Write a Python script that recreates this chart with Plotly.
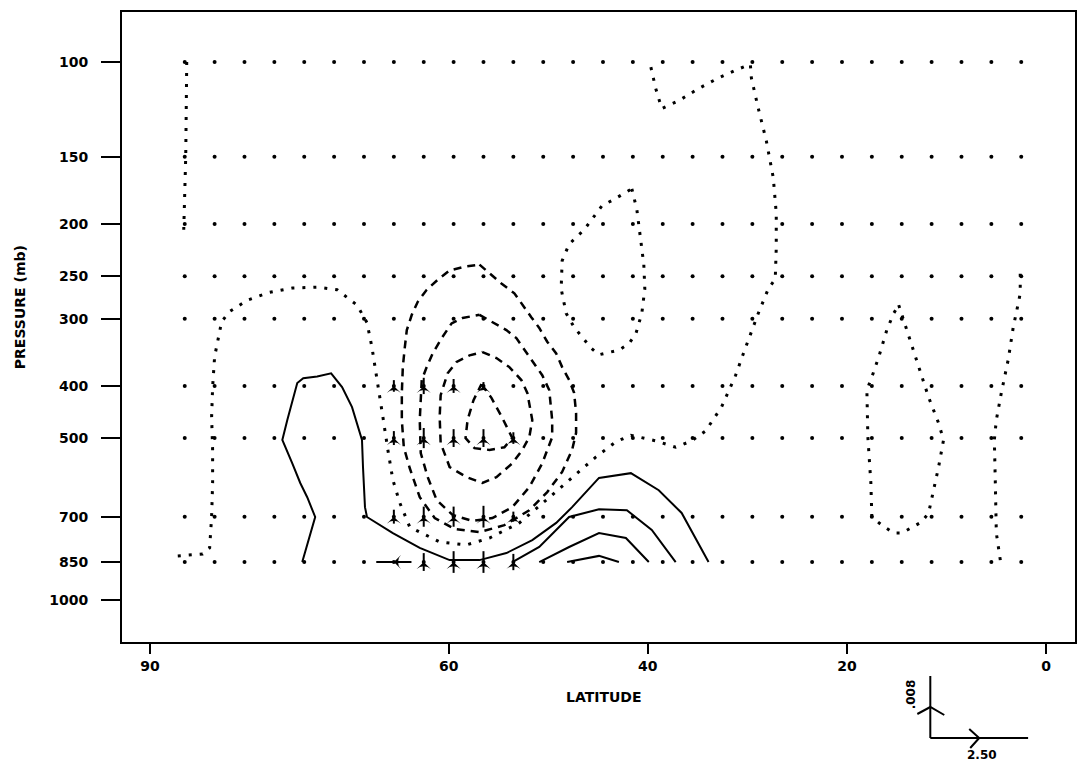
import math
import plotly.graph_objects as go

# ---------------- data ----------------
levels = [100, 150, 200, 250, 300, 400, 500, 700, 850]
grid_lats = [86.5, 83.5, 80.5, 77.5, 74.5, 71.5, 68.5, 65.5, 62.5, 59.5, 56.5, 53.5,
             50.5, 47.5, 44.5, 41.5, 38.5, 35.5, 32.5, 29.5, 26.5, 23.5, 20.5, 17.5,
             14.5, 11.5, 8.5, 5.5, 2.5]

ytick_vals = [100, 150, 200, 250, 300, 400, 500, 700, 850, 1000]
ytick_text = ["100", "150", "200", "250", "300", "400", "500", "700", "850", "1000"]
xtick_vals = [90, 60, 40, 20, 0]
xtick_text = ["90", "60", "40", "20", "0"]

# zero contours (dotted)
z1_lat = [86.3, 86.4, 86.6]
z1_p = [100, 150, 205]

z2_lat = [87.2, 85.8, 84.7, 84.0, 83.8, 83.7, 83.7, 83.8, 83.7, 83.5, 83.2, 82.8, 82.0, 80.2,
          78.0, 75.7, 73.2, 71.2, 69.2, 68.2, 67.7, 67.1, 66.6, 66.1, 65.6, 64.9, 63.9, 60.9,
          58.2, 55.9, 52.9, 50.2, 47.6, 45.2, 43.2, 41.7, 39.2, 37.2, 35.6, 34.2, 32.6, 31.2,
          30.2, 28.9, 27.9, 27.2, 27.1, 27.1, 27.4, 28.1, 28.9, 29.6, 29.7, 30.9, 32.9, 34.9,
          36.9, 38.6, 39.2, 39.7]
z2_p = [828, 825, 821, 800, 701, 606, 526, 457, 402, 353, 333, 304, 291, 277,
        268, 263, 262, 265, 283, 305, 339, 395, 457, 526, 598, 660, 732, 780,
        790, 767, 719, 652, 591, 542, 508, 494, 506, 520, 506, 485, 438, 383,
        340, 293, 264, 253, 222, 191, 164, 140, 122, 107, 101, 103, 107, 112,
        118, 122, 112, 102]

u_lat = [41.6, 41.1, 40.7, 40.4, 40.3, 40.6, 41.2, 41.9, 42.9, 44.9, 45.7, 47.4, 48.2, 48.7,
         48.6, 47.9, 46.4, 44.6, 43.4, 41.6]
u_p = [172, 188, 215, 238, 264, 293, 320, 334, 343, 350, 340, 311, 293, 264,
       234, 218, 205, 185, 180, 172]

r_lat = [14.8, 14.1, 13.0, 11.8, 10.8, 10.3, 10.8, 11.3, 11.8, 12.5, 14.5, 15.3, 16.5, 17.5,
         17.6, 17.9, 18.0, 17.5, 16.8, 16.0, 15.3, 14.8]
r_p = [283, 311, 357, 420, 469, 504, 566, 625, 689, 716, 751, 751, 726, 701,
       606, 498, 407, 385, 353, 315, 293, 283]

e_lat = [4.6, 5.0, 5.1, 5.2, 5.0, 4.5, 3.8, 3.3, 2.8, 2.6, 2.6]
e_p = [843, 751, 606, 504, 463, 412, 357, 311, 281, 269, 245]

# positive contours (solid)
s1_lat = [74.7, 74.1, 73.4, 74.2, 74.9, 75.7, 76.7, 76.2, 75.7, 75.2, 74.6, 73.2, 71.8, 70.7,
          69.7, 68.7, 68.6, 68.4, 68.2, 65.6, 62.9, 59.9, 56.9, 54.2, 51.6, 49.2, 47.6, 44.9,
          41.7, 38.9, 36.6, 33.9]
s1_p = [850, 774, 701, 644, 606, 557, 504, 463, 425, 395, 387, 384, 379, 402,
        438, 504, 566, 672, 701, 751, 800, 843, 843, 818, 774, 719, 672, 593,
        581, 625, 689, 850]
s2_lat = [53.6, 50.9, 47.9, 44.9, 42.1, 39.6, 37.2]
s2_p = [850, 797, 701, 678, 681, 741, 850]
s3_lat = [50.9, 47.9, 44.9, 42.2, 39.9]
s3_p = [850, 797, 751, 767, 850]
s4_lat = [48.1, 44.9, 42.9]
s4_p = [850, 828, 850]

# negative contours (dashed)
n1_lat = [56.7, 55.7, 54.6, 53.6, 54.4, 55.9, 57.4, 58.3, 58.1, 57.5, 56.7]
n1_p = [397, 421, 459, 500, 520, 526, 522, 500, 463, 425, 397]
n2_lat = [56.6, 55.2, 53.9, 52.7, 52.1, 51.6, 51.9, 52.6, 53.6, 55.2, 56.6, 58.2, 59.9, 60.8,
          60.9, 60.8, 60.1, 59.2, 57.9, 56.6]
n2_p = [346, 355, 369, 390, 412, 463, 498, 526, 557, 591, 606, 591, 566, 511,
        457, 416, 379, 361, 351, 346]
n3_lat = [56.9, 55.6, 54.2, 53.2, 52.2, 51.4, 50.6, 49.9, 49.6, 49.6, 50.6, 51.9, 53.6, 55.6,
          57.6, 59.6, 61.2, 62.1, 62.8, 62.9, 62.7, 62.2, 61.6, 60.7, 59.7, 58.6, 56.9]
n3_p = [295, 304, 315, 326, 346, 363, 382, 407, 463, 498, 557, 617, 672, 704,
        713, 695, 652, 591, 533, 463, 390, 369, 348, 326, 306, 299, 295]
n4_lat = [56.9, 55.9, 54.7, 53.4, 52.6, 51.7, 50.9, 50.1, 49.2, 48.6, 47.9, 47.4, 47.2, 47.2,
          47.6, 48.6, 50.1, 51.9, 54.4, 56.9, 59.4, 61.4, 62.9, 63.9, 64.5, 64.7, 64.7, 64.6,
          64.4, 64.2, 63.7, 63.1, 62.2, 61.1, 59.9, 58.4, 56.9]
n4_p = [238, 247, 258, 269, 283, 298, 312, 331, 348, 369, 390, 412, 449, 489,
        526, 578, 630, 681, 726, 748, 738, 704, 644, 569, 520, 463, 412, 369,
        339, 315, 295, 279, 265, 254, 244, 240, 238]

# wind vectors: meridional (m/s, northward +) and vertical (+ up)
vec_lat = [65.5, 62.5, 59.5, 56.5,
           65.5, 62.5, 59.5, 56.5, 53.5,
           65.5, 62.5, 59.5, 56.5, 53.5,
           65.5, 62.5, 59.5, 56.5, 53.5]
vec_p = [400, 400, 400, 400,
         500, 500, 500, 500, 500,
         700, 700, 700, 700, 700,
         850, 850, 850, 850, 850]
vec_v = [0.0, 0.0, 0.0, 0.0,
         0.0, 0.0, 0.0, 0.0, 0.0,
         0.0, 0.0, 0.0, 0.0, 0.0,
         0.9, 0.0, 0.0, 0.0, 0.0]
vec_w = [0.0015, 0.0021, 0.0018, 0.0010,
         0.0018, 0.0026, 0.0023, 0.0023, 0.0015,
         0.0018, 0.0026, 0.0026, 0.0028, 0.0013,
         0.0, 0.0023, 0.0028, 0.0028, 0.0021]

ref_v = 2.50
ref_w = 0.008

# ---------------- layout geometry ----------------
W, H = 1079, 767
PL, PR, PT, PB = 122, 1077, 12, 642
x_range = [92.8, -2.9]
y_range = [math.log10(1197), math.log10(80.7)]
px_per_deg = (PR - PL) / (x_range[0] - x_range[1])
px_per_dec = (PB - PT) / (y_range[0] - y_range[1])
px_per_v = 98 / ref_v
px_per_w = 62 / ref_w


def paper(x, y):
    return (x - PL) / (PR - PL), (PB - y) / (PB - PT)


FONT = "DejaVu Sans, Arial, sans-serif"

fig = go.Figure()

# grid dots
gx, gy = [], []
for p in levels:
    for la in grid_lats:
        gx.append(la)
        gy.append(p)
fig.add_trace(go.Scatter(x=gx, y=gy, mode="markers",
                         marker=dict(size=4, color="black"), hoverinfo="skip"))

dotted = dict(color="black", width=3, dash="3px,8px")
dashed = dict(color="black", width=2.5, dash="8px,6px")
solid = dict(color="black", width=2)

for la, pp in [(z1_lat, z1_p), (z2_lat, z2_p), (u_lat, u_p), (r_lat, r_p), (e_lat, e_p)]:
    fig.add_trace(go.Scatter(x=la, y=pp, mode="lines", line=dotted, hoverinfo="skip"))
for la, pp in [(n1_lat, n1_p), (n2_lat, n2_p), (n3_lat, n3_p), (n4_lat, n4_p)]:
    fig.add_trace(go.Scatter(x=la, y=pp, mode="lines", line=dashed, hoverinfo="skip"))
for la, pp in [(s1_lat, s1_p), (s2_lat, s2_p), (s3_lat, s3_p), (s4_lat, s4_p)]:
    fig.add_trace(go.Scatter(x=la, y=pp, mode="lines", line=solid, hoverinfo="skip"))

# vectors
sx, sy, ang = [], [], []
for la, p, v, w in zip(vec_lat, vec_p, vec_v, vec_w):
    dlat = v * px_per_v / px_per_deg
    dlog = w * px_per_w / px_per_dec
    sx += [la - dlat / 2, la + dlat / 2, None]
    sy += [p * 10 ** (dlog / 2), p * 10 ** (-dlog / 2), None]
    ang.append(math.degrees(math.atan2(-v * px_per_v, w * px_per_w)))
fig.add_trace(go.Scatter(x=sx, y=sy, mode="lines", line=dict(color="black", width=2),
                         hoverinfo="skip"))
fig.add_trace(go.Scatter(x=vec_lat, y=vec_p, mode="markers",
                         marker=dict(symbol="arrow-wide", size=10, angle=ang, color="black"),
                         hoverinfo="skip"))

# ---------------- reference vector key ----------------
ox, oy = 932, 738
hx = ox + ref_v * px_per_v
vy = oy - ref_w * px_per_w
shapes = []
a0 = paper(ox, oy)
a1 = paper(hx, oy)
a2 = paper(ox, vy)
shapes.append(dict(type="line", xref="paper", yref="paper", x0=a0[0], y0=a0[1], x1=a1[0], y1=a1[1],
                   line=dict(color="black", width=2)))
shapes.append(dict(type="line", xref="paper", yref="paper", x0=a0[0], y0=a0[1], x1=a2[0], y1=a2[1],
                   line=dict(color="black", width=2)))
mx = (ox + hx) / 2
my = (oy + vy) / 2
c1 = [paper(mx - 10, oy - 9), paper(mx, oy), paper(mx - 9, oy + 10)]
c2 = [paper(ox - 13, my + 7), paper(ox, my), paper(ox + 14, my + 8)]
for c in (c1, c2):
    shapes.append(dict(type="path", xref="paper", yref="paper",
                       path="M {:.5f},{:.5f} L {:.5f},{:.5f} L {:.5f},{:.5f}".format(
                           c[0][0], c[0][1], c[1][0], c[1][1], c[2][0], c[2][1]),
                       line=dict(color="black", width=2)))


def label(x, y, text, size, angle=0):
    px, py = paper(x, y)
    return dict(x=px, y=py, xref="paper", yref="paper", text=text, showarrow=False,
                xanchor="center", yanchor="middle", textangle=angle,
                font=dict(family=FONT, size=size, color="black", weight="bold"))


annotations = [
    label(984, 755, "2.50", 12),
    label(913, 694, ".008", 12, -90),
    label(605, 697, "LATITUDE", 14),
    label(20, 307, "PRESSURE (mb)", 14, -90),
]

fig.update_layout(
    width=W, height=H,
    margin=dict(l=PL, r=W - PR, t=PT, b=H - PB),
    paper_bgcolor="white", plot_bgcolor="white",
    showlegend=False,
    shapes=shapes, annotations=annotations,
    font=dict(family=FONT, size=14, color="black", weight="bold"),
)
fig.update_xaxes(range=x_range, tickvals=xtick_vals, ticktext=xtick_text,
                 showgrid=False, zeroline=False, showline=True, mirror=True,
                 linecolor="black", linewidth=2, ticks="outside", ticklen=10,
                 tickwidth=2, tickcolor="black", tickfont=dict(size=14))
fig.update_yaxes(type="log", range=y_range, tickvals=ytick_vals, ticktext=ytick_text,
                 showgrid=False, zeroline=False, showline=True, mirror=True,
                 linecolor="black", linewidth=2, ticks="outside", ticklen=19,
                 tickwidth=2, tickcolor="black", ticklabelstandoff=10, tickfont=dict(size=14))

fig.write_html("out.html")
